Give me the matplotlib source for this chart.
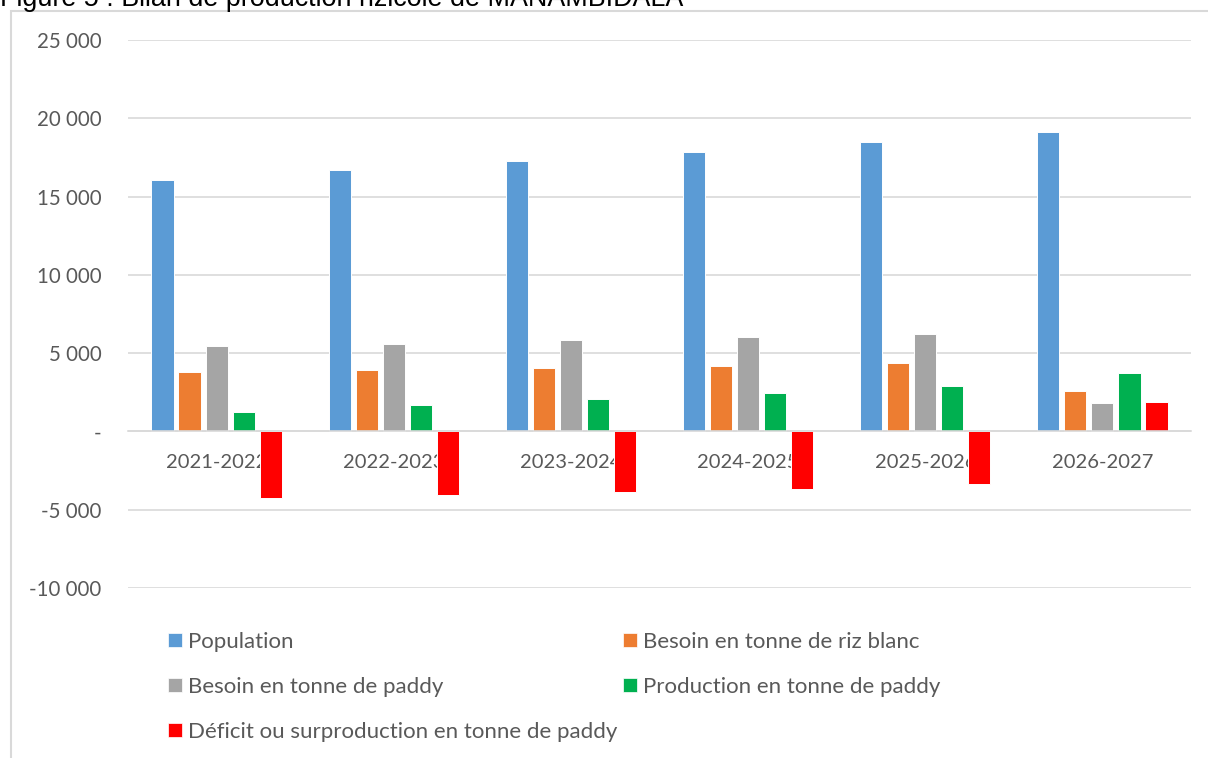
import numpy as np
import matplotlib
matplotlib.use("Agg")
import matplotlib.pyplot as plt
from matplotlib.patches import Patch, Rectangle
from matplotlib.ticker import FuncFormatter

# donnees
campagnes = ["2021-2022", "2022-2023", "2023-2024", "2024-2025", "2025-2026", "2026-2027"]
population = [16090, 16670, 17240, 17820, 18460, 19120]
besoin_riz_blanc = [3770, 3940, 4030, 4200, 4350, 2560]
besoin_paddy = [5430, 5580, 5840, 6010, 6240, 1830]
production_paddy = [1240, 1660, 2100, 2470, 2880, 3710]
deficit_paddy = [-4250, -4050, -3850, -3700, -3380, 1850]

series = [
    ("Population", population, "#5B9BD5"),
    ("Besoin en tonne de riz blanc", besoin_riz_blanc, "#ED7D31"),
    ("Besoin en tonne de paddy", besoin_paddy, "#A5A5A5"),
    ("Production en tonne de paddy", production_paddy, "#00B050"),
    ("Déficit ou surproduction en tonne de paddy", deficit_paddy, "#FF0000"),
]

W, H = 1208, 758
fig = plt.figure(figsize=(W / 100, H / 100), dpi=100)
plt.rcParams["font.family"] = ["Lato", "DejaVu Sans"]
gris_txt = "#595959"
gris_ligne = "#D9D9D9"

# cadre du graphique
fig.add_artist(Rectangle((11 / W, -0.1), 1.2, 1.1 - 11 / H, transform=fig.transFigure,
                         facecolor="none", edgecolor=gris_ligne, linewidth=1.5))
# titre coupe en haut comme dans l'original
fig.text(0.0, 1 - 6 / H, "Figure 5 : Bilan de production rizicole de MANAMBIDALA",
         fontsize=19.4, family="Liberation Sans", color="black", va="baseline", ha="left")

ax = fig.add_axes([128 / W, 1 - 588 / H, (1191 - 128) / W, (588 - 40) / H])
x = np.arange(len(campagnes))
pas = 0.1525
larg = 0.125
for i, (nom, vals, col) in enumerate(series):
    ax.bar(x + (i - 2) * pas, vals, width=larg, color=col, edgecolor="white",
           linewidth=0.7, label=nom, zorder=2)

ax.set_xlim(-0.5, len(campagnes) - 0.5)
ax.set_ylim(-10000, 25000)
ax.set_yticks(np.arange(-10000, 25001, 5000))
ax.yaxis.set_major_formatter(FuncFormatter(
    lambda v, p: "-" if v == 0 else f"{int(v):,}".replace(",", " ")))
ax.grid(axis="y", color=gris_ligne, linewidth=1.2, zorder=0)
ax.set_axisbelow(True)
for s in ["top", "right", "left"]:
    ax.spines[s].set_visible(False)
ax.spines["bottom"].set_position(("data", 0))
ax.spines["bottom"].set_color(gris_ligne)
ax.spines["bottom"].set_linewidth(1.2)
ax.set_xticks(x)
ax.set_xticklabels(campagnes)
ax.tick_params(axis="x", length=0, pad=16, labelsize=14.5, labelcolor=gris_txt)
ax.tick_params(axis="y", length=0, pad=19, labelsize=14.8, labelcolor=gris_txt)

# legende en 2 colonnes (ordre ligne par ligne comme Excel)
handles = [Patch(facecolor=c, edgecolor="white", linewidth=0.5) for _, _, c in series]
labels = [n for n, _, _ in series]
ordre = [0, 2, 4, 1, 3]
fig.legend([handles[k] for k in ordre], [labels[k] for k in ordre],
           ncol=2, loc="upper left", bbox_to_anchor=(168 / W, 1 - 632 / H),
           frameon=False, fontsize=16, labelcolor=gris_txt,
           handlelength=0.63, handleheight=0.63, handletextpad=0.27,
           columnspacing=0.25, labelspacing=1.12, borderpad=0, borderaxespad=0)

plt.savefig("out.png", dpi=100)
